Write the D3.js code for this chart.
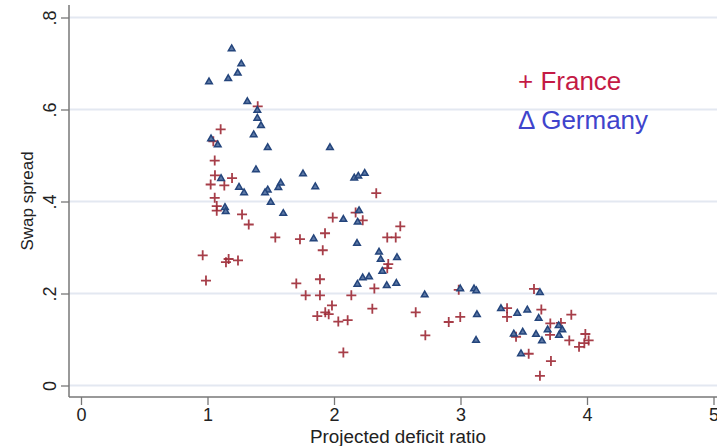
<!DOCTYPE html>
<html>
<head>
<meta charset="utf-8">
<script src="https://cdn.jsdelivr.net/npm/d3@7"></script>
<style>
  html, body { margin: 0; padding: 0; background: #fff; }
  svg { display: block; font-family: "Liberation Sans", Arial, sans-serif; }
</style>
</head>
<body>
<svg id="chart" width="717" height="446"></svg>
<script>
// Projected deficit ratio (x) against swap spread (y)
const franceX = [1.397,1.104,1.046,1.057,1.059,1.025,1.133,1.194,1.057,1.073,1.073,1.273,1.326,1.536,1.731,1.929,1.911,1.990,2.171,0.962,1.167,1.146,1.241,0.988,1.702,1.889,1.776,1.889,2.137,1.984,1.868,1.931,1.958,2.034,2.108,2.074,2.334,2.227,2.524,2.421,2.488,2.429,2.421,2.319,2.986,2.303,2.646,2.907,2.998,2.722,3.368,3.368,3.439,3.539,3.581,3.639,3.876,3.710,3.708,3.794,3.860,3.987,3.937,3.979,4.013,3.715,3.628];
const franceY = [0.607,0.557,0.531,0.489,0.457,0.437,0.435,0.451,0.408,0.390,0.380,0.372,0.350,0.322,0.318,0.331,0.294,0.365,0.376,0.283,0.275,0.268,0.272,0.228,0.222,0.231,0.196,0.196,0.196,0.174,0.151,0.159,0.155,0.139,0.142,0.072,0.418,0.359,0.346,0.322,0.322,0.264,0.255,0.211,0.208,0.167,0.159,0.138,0.149,0.109,0.168,0.149,0.106,0.069,0.210,0.165,0.154,0.135,0.110,0.136,0.098,0.112,0.084,0.092,0.098,0.053,0.021];

const germanyX = [1.191,1.267,1.239,1.164,1.012,1.315,1.394,1.394,1.423,1.365,1.028,1.081,1.476,1.968,1.383,1.755,1.107,1.249,1.289,1.476,1.455,1.579,1.560,1.852,2.160,2.192,2.243,1.500,1.138,1.144,1.599,1.839,2.074,2.187,2.182,2.185,2.198,2.356,2.369,2.498,2.382,2.227,2.277,2.417,2.493,2.717,2.998,3.107,3.125,3.130,3.123,3.320,3.449,3.528,3.421,3.492,3.478,3.628,3.618,3.689,3.776,3.805,3.779,3.597,3.644];
const germanyY = [0.732,0.699,0.679,0.667,0.660,0.617,0.598,0.581,0.565,0.545,0.536,0.523,0.517,0.517,0.469,0.460,0.450,0.431,0.419,0.425,0.419,0.440,0.430,0.432,0.451,0.455,0.461,0.398,0.387,0.378,0.374,0.319,0.361,0.355,0.309,0.220,0.380,0.290,0.274,0.278,0.248,0.234,0.236,0.217,0.222,0.197,0.210,0.210,0.206,0.154,0.098,0.167,0.157,0.164,0.112,0.116,0.069,0.202,0.146,0.121,0.130,0.121,0.109,0.111,0.097];

const xTicks = [0, 1, 2, 3, 4, 5];
const yTicks = [0, 0.2, 0.4, 0.6, 0.8];
const yTickLabels = ["0", ".2", ".4", ".6", ".8"];
const seriesNames = ["France", "Germany"];

const svg = d3.select("#chart");

const x = d3.scaleLinear().domain([0, 5]).range([81, 713.5]);
const y = d3.scaleLinear().domain([0, 0.8]).range([385.5, 17.5]);

const axisLeft = 69, axisBottom = 397;

// horizontal grid
svg.append("g").selectAll("line").data(yTicks).join("line")
  .attr("x1", axisLeft).attr("x2", 717)
  .attr("y1", d => y(d)).attr("y2", d => y(d))
  .attr("stroke", "#e3e8f1").attr("stroke-width", 2);

// y axis
const gy = svg.append("g").attr("transform", `translate(${axisLeft},0)`)
  .call(d3.axisLeft(y).tickValues(yTicks).tickSize(8).tickPadding(0)
    .tickFormat((d, i) => yTickLabels[i]));
gy.select(".domain").attr("d", `M0,5V${axisBottom}`).attr("stroke", "#777").attr("stroke-width", 1.5);
gy.selectAll(".tick line").attr("stroke", "#777").attr("stroke-width", 1.3);
gy.selectAll(".tick text")
  .attr("font-size", 18).attr("fill", "#222")
  .attr("text-anchor", "middle")
  .attr("transform", "translate(-19,0) rotate(-90)")
  .attr("x", 0).attr("dy", "0.35em");

// x axis
const gx = svg.append("g").attr("transform", `translate(0,${axisBottom})`)
  .call(d3.axisBottom(x).tickValues(xTicks).tickSize(8).tickPadding(3).tickFormat(d3.format("d")));
gx.select(".domain").attr("d", `M${axisLeft},0H717`).attr("stroke", "#777").attr("stroke-width", 1.5);
gx.selectAll(".tick line").attr("stroke", "#777").attr("stroke-width", 1.3);
gx.selectAll(".tick text").attr("font-size", 18).attr("fill", "#222");

// axis titles
svg.append("text").attr("x", 398).attr("y", 443).attr("text-anchor", "middle")
  .attr("font-size", 18).attr("textLength", 176).attr("lengthAdjust", "spacingAndGlyphs")
  .attr("fill", "#222").text("Projected deficit ratio");
svg.append("text").attr("transform", "translate(33,201) rotate(-90)").attr("text-anchor", "middle")
  .attr("font-size", 17).attr("fill", "#222").text("Swap spread");

// France: plus markers
const fr = d3.zip(franceX, franceY);
svg.append("g").selectAll("path").data(fr).join("path")
  .attr("transform", d => `translate(${x(d[0])},${y(d[1])})`)
  .attr("d", "M-5,0H5M0,-5V5")
  .attr("stroke", "#9e2a36").attr("stroke-width", 1.8).attr("opacity", 0.9);

// Germany: triangle markers
const de = d3.zip(germanyX, germanyY);
const tri = d3.symbol().type(d3.symbolTriangle).size(19);
svg.append("g").selectAll("path").data(de).join("path")
  .attr("transform", d => `translate(${x(d[0])},${y(d[1])})`)
  .attr("d", tri)
  .attr("fill", "#5d79a6").attr("stroke", "#24457c").attr("stroke-width", 1.5);

// legend
svg.append("text").attr("x", 518).attr("y", 90).attr("font-size", 26).attr("fill", "#c41a45")
  .text("+ " + seriesNames[0]);
svg.append("text").attr("x", 518).attr("y", 129).attr("font-size", 26).attr("fill", "#3f44cc")
  .text("\u0394 " + seriesNames[1]);
</script>
</body>
</html>
